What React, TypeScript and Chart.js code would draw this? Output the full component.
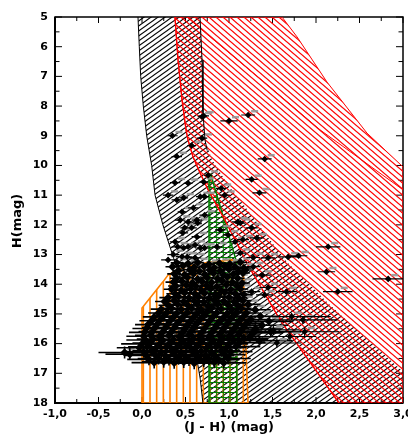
import React, { useEffect, useRef } from 'react';
import { Chart, registerables } from 'chart.js';

Chart.register(...registerables);

type Pt = [number, number];
type Star = [number, number, number]; // [J-H, H, error in J-H]

// ---------- axes ----------
const xRange: Pt = [-1, 3];
const yRange: Pt = [5, 18];
const xTitle = '(J - H) (mag)';
const yTitle = 'H(mag)';

// ---------- region boundaries [J-H, H] ----------
const blackLeftEdge: Pt[] = [
  [-0.046, 5], [-0.031, 6], [-0.015, 7], [0.015, 8], [0.054, 9], [0.111, 10], [0.15, 11],
  [0.24, 12], [0.35, 13], [0.46, 14], [0.54, 15], [0.6, 16], [0.63, 16.5], [0.67, 17.2], [0.7, 18],
];
const blackRightEdge: Pt[] = [
  [0.667, 5], [0.69, 6.45], [0.701, 8.23], [0.724, 9.14], [0.805, 9.81], [0.989, 10.66],
  [1.241, 11.6], [1.471, 12.51], [1.667, 13.25], [2.161, 14.7], [3.0, 16.95],
];
const blackRightOutline: Pt[] = [[0.667, 5], [0.69, 6.45], [0.701, 8.23], [0.724, 9.14], [0.75, 9.5]];

const redLeftEdge: Pt[] = [
  [0.379, 5], [0.414, 6.45], [0.46, 7.79], [0.506, 8.8], [0.529, 9.14], [0.586, 9.71],
  [0.667, 10.25], [0.759, 10.82], [0.954, 11.84], [1.218, 13.35], [1.586, 15.2], [2.264, 18],
];
const redRightEdge: Pt[] = [[1.609, 5], [1.782, 5.67], [2.126, 7.19], [2.586, 8.91], [3.0, 10.05]];
const redInnerLine: Pt[] = [[0.517, 5], [0.69, 5.44], [1.471, 7.36], [2.046, 8.8], [3.0, 10.82]];

const greenBox: Pt[] = [[0.77, 10.3], [0.79, 10.3], [1.09, 13.28], [1.09, 18], [0.77, 18]];
const orangeBox: Pt[] = [
  [0.0, 18], [0.0, 14.8], [0.241, 13.92], [0.299, 13.69], [0.402, 13.52], [0.586, 13.35],
  [0.782, 13.25], [1.046, 13.18], [1.161, 13.28], [1.218, 18],
];

// ---------- stars [J-H, H, err(J-H)] ----------
const brightStars: Star[] = [
  [0.71, 8.33, 0.06], [0.69, 8.36, 0.05], [1.0, 8.5, 0.1], [1.22, 8.3, 0.08],
  [0.35, 9.0, 0.06], [0.57, 9.33, 0.05], [0.69, 9.08, 0.06], [0.4, 9.7, 0.06], [1.41, 9.78, 0.08],
  [0.38, 10.58, 0.06], [0.53, 10.6, 0.05], [0.76, 10.33, 0.05], [0.71, 10.56, 0.05], [1.26, 10.47, 0.07],
  [1.35, 10.92, 0.08], [0.91, 10.77, 0.06],
  [0.3, 11.0, 0.06], [0.67, 11.05, 0.05], [0.95, 11.0, 0.06], [0.4, 11.16, 0.06], [0.48, 11.09, 0.05],
  [0.72, 11.05, 0.05], [0.59, 11.43, 0.06], [0.46, 11.56, 0.05],
  [0.44, 11.84, 0.06], [0.53, 11.9, 0.05], [0.63, 11.84, 0.06], [0.64, 11.94, 0.05], [0.72, 11.67, 0.06],
  [1.1, 11.9, 0.07], [1.13, 11.94, 0.06],
  [0.57, 12.1, 0.06], [0.49, 12.1, 0.05], [0.9, 12.17, 0.06], [1.26, 12.1, 0.07], [0.47, 12.27, 0.06],
  [0.63, 12.4, 0.06], [0.99, 12.34, 0.06], [1.16, 12.5, 0.07], [1.32, 12.44, 0.08], [1.07, 12.57, 0.06],
  [0.38, 12.57, 0.06],
  [0.41, 12.74, 0.07], [0.53, 12.74, 0.06], [0.67, 12.78, 0.06], [0.86, 12.74, 0.06], [0.48, 12.78, 0.06],
  [0.61, 12.68, 0.06], [0.72, 12.78, 0.07], [2.14, 12.74, 0.14],
  [0.36, 13.0, 0.07], [0.52, 13.08, 0.06], [1.28, 13.1, 0.08], [1.13, 12.95, 0.07], [0.3, 13.18, 0.08],
  [0.46, 13.07, 0.07], [0.61, 13.11, 0.07], [1.45, 13.11, 0.08], [1.68, 13.08, 0.12], [1.8, 13.04, 0.1],
];

const reddenedStars: Star[] = [
  [2.12, 13.58, 0.1], [2.83, 13.82, 0.18], [2.25, 14.25, 0.17], [1.66, 14.25, 0.12], [1.41, 14.36, 0.1],
  [1.45, 14.11, 0.1], [1.38, 13.69, 0.1], [1.26, 14.25, 0.1], [1.28, 13.41, 0.08], [1.2, 13.52, 0.08],
  [1.72, 15.09, 0.45], [1.85, 15.2, 0.4], [1.87, 15.6, 0.4], [1.51, 15.54, 0.3], [1.7, 15.76, 0.3],
  [1.55, 15.98, 0.28],
];

const faintStars: Star[] = [
  [0.4, 13.28, 0.07], [0.53, 13.31, 0.06], [0.64, 13.27, 0.07], [0.77, 13.33, 0.06], [0.89, 13.29, 0.08], [1.01, 13.32, 0.07], [1.13, 13.26, 0.08],
  [0.35, 13.41, 0.08], [0.47, 13.38, 0.07], [0.6, 13.43, 0.07], [0.71, 13.4, 0.06], [0.83, 13.44, 0.08], [0.95, 13.39, 0.07], [1.07, 13.42, 0.07], [1.17, 13.45, 0.09],
  [0.42, 13.54, 0.07], [0.55, 13.51, 0.08], [0.66, 13.56, 0.07], [0.78, 13.52, 0.07], [0.9, 13.55, 0.06], [1.0, 13.5, 0.08], [1.11, 13.57, 0.07],
  [0.37, 13.65, 0.08], [0.49, 13.68, 0.07], [0.59, 13.64, 0.08], [0.72, 13.67, 0.07], [0.82, 13.63, 0.07], [0.94, 13.69, 0.08], [1.05, 13.66, 0.07], [1.16, 13.62, 0.08],
  [0.4, 13.8, 0.08], [0.52, 13.77, 0.08], [0.64, 13.82, 0.07], [0.75, 13.78, 0.08], [0.87, 13.81, 0.07], [0.98, 13.76, 0.08], [1.1, 13.8, 0.08],
  [0.36, 13.93, 0.09], [0.46, 13.9, 0.08], [0.58, 13.95, 0.08], [0.69, 13.91, 0.07], [0.8, 13.94, 0.08], [0.92, 13.89, 0.08], [1.04, 13.93, 0.07], [1.15, 13.96, 0.09],
  [0.39, 14.06, 0.09], [0.51, 14.03, 0.08], [0.62, 14.07, 0.09], [0.74, 14.04, 0.08], [0.86, 14.08, 0.08], [0.97, 14.02, 0.09], [1.09, 14.05, 0.08],
  [0.34, 14.17, 0.09], [0.45, 14.2, 0.09], [0.56, 14.16, 0.08], [0.68, 14.19, 0.09], [0.79, 14.15, 0.08], [0.91, 14.21, 0.09], [1.02, 14.18, 0.08], [1.13, 14.16, 0.09],
  [0.38, 14.32, 0.1], [0.49, 14.29, 0.09], [0.61, 14.33, 0.09], [0.72, 14.3, 0.09], [0.84, 14.34, 0.08], [0.95, 14.28, 0.1], [1.07, 14.31, 0.09], [1.17, 14.35, 0.1],
  [0.3, 14.45, 0.1], [0.42, 14.42, 0.1], [0.54, 14.46, 0.09], [0.65, 14.43, 0.1], [0.77, 14.47, 0.09], [0.88, 14.41, 0.1], [1.0, 14.44, 0.09], [1.11, 14.46, 0.1],
  [0.26, 14.58, 0.11], [0.37, 14.55, 0.1], [0.48, 14.59, 0.1], [0.6, 14.56, 0.1], [0.71, 14.6, 0.09], [0.83, 14.54, 0.1], [0.94, 14.57, 0.1], [1.06, 14.59, 0.11], [1.16, 14.55, 0.1],
  [0.3, 14.71, 0.11], [0.41, 14.68, 0.11], [0.53, 14.72, 0.1], [0.64, 14.69, 0.11], [0.76, 14.73, 0.1], [0.87, 14.67, 0.11], [0.99, 14.7, 0.1], [1.1, 14.72, 0.11], [1.22, 14.68, 0.14],
  [0.22, 14.84, 0.12], [0.34, 14.81, 0.11], [0.45, 14.85, 0.11], [0.57, 14.82, 0.11], [0.68, 14.86, 0.1], [0.8, 14.8, 0.11], [0.91, 14.83, 0.11], [1.03, 14.85, 0.12], [1.14, 14.81, 0.12], [1.3, 14.86, 0.18],
  [0.19, 14.97, 0.12], [0.29, 14.94, 0.12], [0.4, 14.98, 0.12], [0.52, 14.95, 0.11], [0.63, 14.99, 0.12], [0.75, 14.93, 0.11], [0.86, 14.96, 0.12], [0.98, 14.98, 0.12], [1.09, 14.94, 0.12], [1.2, 14.97, 0.15],
  [0.14, 15.1, 0.13], [0.25, 15.07, 0.13], [0.36, 15.11, 0.12], [0.48, 15.08, 0.13], [0.59, 15.12, 0.12], [0.71, 15.06, 0.12], [0.82, 15.09, 0.13], [0.94, 15.11, 0.12], [1.05, 15.07, 0.13], [1.16, 15.1, 0.14], [1.36, 15.08, 0.22],
  [0.11, 15.23, 0.14], [0.21, 15.2, 0.13], [0.32, 15.24, 0.13], [0.44, 15.21, 0.14], [0.55, 15.25, 0.13], [0.67, 15.19, 0.13], [0.78, 15.22, 0.14], [0.9, 15.24, 0.13], [1.01, 15.2, 0.14], [1.12, 15.23, 0.15], [1.25, 15.19, 0.2], [1.46, 15.25, 0.28],
  [0.07, 15.36, 0.15], [0.18, 15.33, 0.14], [0.29, 15.37, 0.14], [0.4, 15.34, 0.15], [0.52, 15.38, 0.14], [0.63, 15.32, 0.14], [0.75, 15.35, 0.15], [0.86, 15.37, 0.14], [0.98, 15.33, 0.15], [1.09, 15.36, 0.16], [1.2, 15.32, 0.2], [1.38, 15.38, 0.3],
  [0.05, 15.49, 0.16], [0.15, 15.46, 0.15], [0.26, 15.5, 0.15], [0.37, 15.47, 0.16], [0.49, 15.51, 0.15], [0.6, 15.45, 0.15], [0.72, 15.48, 0.16], [0.83, 15.5, 0.15], [0.95, 15.46, 0.16], [1.06, 15.49, 0.17], [1.17, 15.45, 0.22], [1.3, 15.51, 0.3],
  [0.03, 15.62, 0.18], [0.12, 15.59, 0.16], [0.23, 15.63, 0.16], [0.34, 15.6, 0.17], [0.46, 15.64, 0.16], [0.57, 15.58, 0.16], [0.69, 15.61, 0.17], [0.8, 15.63, 0.16], [0.92, 15.59, 0.17], [1.03, 15.62, 0.18], [1.14, 15.58, 0.24], [1.28, 15.64, 0.34], [1.48, 15.6, 0.35],
  [0.02, 15.75, 0.2], [0.1, 15.72, 0.18], [0.2, 15.76, 0.17], [0.31, 15.73, 0.18], [0.43, 15.77, 0.17], [0.54, 15.71, 0.17], [0.66, 15.74, 0.18], [0.77, 15.76, 0.17], [0.89, 15.72, 0.18], [1.0, 15.75, 0.19], [1.11, 15.71, 0.25], [1.24, 15.77, 0.32],
  [0.04, 15.88, 0.22], [0.13, 15.85, 0.19], [0.24, 15.89, 0.18], [0.36, 15.86, 0.19], [0.47, 15.9, 0.18], [0.59, 15.84, 0.18], [0.7, 15.87, 0.19], [0.82, 15.89, 0.18], [0.93, 15.85, 0.19], [1.05, 15.88, 0.22], [1.17, 15.84, 0.28], [1.35, 15.9, 0.38],
  [0.0, 16.01, 0.24], [0.09, 15.98, 0.2], [0.2, 16.02, 0.19], [0.32, 15.99, 0.2], [0.43, 16.03, 0.19], [0.55, 15.97, 0.19], [0.66, 16.0, 0.2], [0.78, 16.02, 0.19], [0.89, 15.98, 0.2], [1.0, 16.01, 0.22], [1.12, 15.97, 0.3],
  [-0.03, 16.14, 0.26], [0.06, 16.11, 0.22], [0.16, 16.15, 0.21], [0.28, 16.12, 0.21], [0.39, 16.16, 0.2], [0.51, 16.1, 0.21], [0.62, 16.13, 0.21], [0.74, 16.15, 0.2], [0.85, 16.11, 0.21], [0.97, 16.14, 0.23], [1.08, 16.1, 0.28],
  [-0.2, 16.3, 0.3], [0.02, 16.27, 0.24], [0.11, 16.24, 0.22], [0.22, 16.28, 0.22], [0.34, 16.25, 0.22], [0.45, 16.29, 0.21], [0.57, 16.23, 0.22], [0.68, 16.26, 0.22], [0.8, 16.28, 0.21], [0.91, 16.24, 0.22], [1.02, 16.27, 0.25],
  [-0.14, 16.36, 0.28], [0.05, 16.4, 0.25], [0.15, 16.37, 0.23], [0.27, 16.41, 0.23], [0.38, 16.38, 0.23], [0.5, 16.42, 0.22], [0.61, 16.36, 0.23], [0.73, 16.39, 0.23], [0.84, 16.41, 0.22], [0.95, 16.37, 0.24],
  [0.08, 16.53, 0.25], [0.19, 16.5, 0.24], [0.31, 16.54, 0.24], [0.42, 16.51, 0.24], [0.54, 16.55, 0.23], [0.65, 16.49, 0.24], [0.77, 16.52, 0.23], [0.88, 16.54, 0.24], [0.99, 16.5, 0.26],
  [0.14, 16.64, 0.26], [0.25, 16.61, 0.25], [0.37, 16.65, 0.25], [0.48, 16.62, 0.24], [0.6, 16.66, 0.25], [0.71, 16.6, 0.24], [0.83, 16.63, 0.25], [0.94, 16.65, 0.26],
];

// error in H by magnitude band: [upper H limit, error]
const hErrorBands: Pt[] = [[11, 0.03], [13, 0.05], [14.5, 0.08], [15.5, 0.12], [16.2, 0.16], [19, 0.2]];

const BLACK = '#000000';
const RED = '#ff0000';
const GREEN = '#008000';
const ORANGE = '#ff8000';
const FONT = 'DejaVu Sans';

function hError(h: number): number {
  for (const [lim, e] of hErrorBands) if (h < lim) return e;
  return 0.2;
}

const App = () => {
  const ref = useRef<HTMLCanvasElement>(null);

  useEffect(() => {
    const canvas = ref.current!;
    const ctx0 = canvas.getContext('2d')!;
    const mkPattern = (w: number, h: number, draw: (g: CanvasRenderingContext2D) => void) => {
      const c = document.createElement('canvas');
      c.width = w;
      c.height = h;
      const g = c.getContext('2d')!;
      draw(g);
      return ctx0.createPattern(c, 'repeat')!;
    };
    const blackHatch = mkPattern(7, 5, (g) => {
      g.strokeStyle = BLACK;
      g.lineWidth = 1.05;
      for (const o of [-7, 0, 7]) {
        g.beginPath();
        g.moveTo(o - 7, 10);
        g.lineTo(o + 14, -5);
        g.stroke();
      }
    });
    const redHatch = mkPattern(7, 6, (g) => {
      g.strokeStyle = RED;
      g.lineWidth = 1.25;
      for (const o of [-7, 0, 7]) {
        g.beginPath();
        g.moveTo(o - 7, -6);
        g.lineTo(o + 14, 12);
        g.stroke();
      }
    });
    const greenGrid = mkPattern(20, 5, (g) => {
      g.strokeStyle = GREEN;
      g.lineWidth = 1;
      g.beginPath();
      g.moveTo(0, 2.5);
      g.lineTo(20, 2.5);
      for (const x of [3.33, 10, 16.67]) {
        g.moveTo(x, 0);
        g.lineTo(x, 5);
      }
      g.stroke();
    });
    const orangeBars = mkPattern(20, 4, (g) => {
      g.strokeStyle = ORANGE;
      g.lineWidth = 1.6;
      g.beginPath();
      for (const x of [3.33, 10, 16.67]) {
        g.moveTo(x, 0);
        g.lineTo(x, 4);
      }
      g.stroke();
    });

    const toXY = (pts: Pt[]) => pts.map(([x, y]) => ({ x, y }));
    const outline = (pts: Pt[], color: string, width: number, order: number) => ({
      data: toXY(pts),
      showLine: true,
      fill: false,
      borderColor: color,
      borderWidth: width,
      pointRadius: 0,
      tension: 0,
      order,
    });

    const blackPoly: Pt[] = [...blackLeftEdge, [3, 18], ...blackRightEdge.slice().reverse()];
    const redPoly: Pt[] = [...redLeftEdge, [3, 18], ...redRightEdge.slice().reverse()];
    const close = (p: Pt[]) => [...p, p[0]];
    const regions: [Pt[], CanvasPattern][] = [
      [blackPoly, blackHatch],
      [redPoly, redHatch],
      [orangeBox, orangeBars],
      [greenBox, greenGrid],
    ];

    const mkStars = (list: Star[]) => list.map(([x, y, ex]) => ({ x, y, ex, ey: hError(y) }));

    const errorPlugin = {
      id: 'errorBars',
      beforeDatasetDraw(chart: any, args: any) {
        const ds = chart.data.datasets[args.index];
        if (!ds.isStars) return;
        const { ctx, chartArea: a, scales } = chart;
        ctx.save();
        ctx.beginPath();
        ctx.rect(a.left, a.top, a.right - a.left, a.bottom - a.top);
        ctx.clip();
        // gray star labels
        ctx.fillStyle = 'rgba(150,150,150,0.9)';
        for (const p of ds.data) {
          const xc = scales.x.getPixelForValue(p.x);
          const yc = scales.y.getPixelForValue(p.y);
          ctx.fillRect(xc + 3, yc - 5, 7, 2.5);
        }
        ctx.strokeStyle = '#000';
        ctx.lineWidth = ds.barWidth;
        ctx.beginPath();
        for (const p of ds.data) {
          const x0 = scales.x.getPixelForValue(p.x - p.ex);
          const x1 = scales.x.getPixelForValue(p.x + p.ex);
          const yc = scales.y.getPixelForValue(p.y);
          const xc = scales.x.getPixelForValue(p.x);
          const y0 = scales.y.getPixelForValue(p.y - p.ey);
          const y1 = scales.y.getPixelForValue(p.y + p.ey);
          ctx.moveTo(x0, yc);
          ctx.lineTo(x1, yc);
          ctx.moveTo(xc, y0);
          ctx.lineTo(xc, y1);
        }
        ctx.stroke();
        ctx.restore();
      },
    };

    const framePlugin = {
      id: 'frame',
      beforeDatasetsDraw(chart: any) {
        const { ctx, chartArea: a, scales } = chart;
        ctx.save();
        ctx.strokeStyle = '#000';
        ctx.lineWidth = 1;
        ctx.beginPath();
        for (let v = xRange[0]; v <= xRange[1] + 1e-9; v += 0.25) {
          const x = scales.x.getPixelForValue(v);
          const major = Math.abs(v * 2 - Math.round(v * 2)) < 1e-6;
          const len = major ? 6 : 4;
          ctx.moveTo(x, a.bottom);
          ctx.lineTo(x, a.bottom - len);
          ctx.moveTo(x, a.top);
          ctx.lineTo(x, a.top + len);
        }
        for (let v = yRange[0]; v <= yRange[1] + 1e-9; v += 0.5) {
          const y = scales.y.getPixelForValue(v);
          const major = Math.abs(v - Math.round(v)) < 1e-6;
          const len = major ? 7 : 4.5;
          ctx.moveTo(a.left, y);
          ctx.lineTo(a.left + len, y);
          ctx.moveTo(a.right, y);
          ctx.lineTo(a.right - len, y);
        }
        ctx.stroke();
        ctx.lineWidth = 1.5;
        ctx.strokeRect(a.left, a.top, a.right - a.left, a.bottom - a.top);
        ctx.lineWidth = 2;
        ctx.beginPath();
        ctx.moveTo(a.left, a.top);
        ctx.lineTo(a.left, a.bottom);
        ctx.lineTo(a.right, a.bottom);
        ctx.stroke();

        // hatched regions
        ctx.beginPath();
        ctx.rect(a.left, a.top, a.right - a.left, a.bottom - a.top);
        ctx.clip();
        for (const [poly, pattern] of regions) {
          ctx.beginPath();
          poly.forEach(([x, y], i) => {
            const px = scales.x.getPixelForValue(x);
            const py = scales.y.getPixelForValue(y);
            if (i === 0) ctx.moveTo(px, py);
            else ctx.lineTo(px, py);
          });
          ctx.closePath();
          ctx.fillStyle = pattern;
          ctx.fill();
        }
        ctx.restore();
      },
      afterDraw(chart: any) {
        const { ctx, chartArea: a } = chart;
        ctx.save();
        ctx.fillStyle = '#000';
        ctx.font = `bold 13px "${FONT}"`;
        ctx.textAlign = 'center';
        ctx.textBaseline = 'middle';
        ctx.fillText(xTitle, (a.left + a.right) / 2, 428);
        ctx.translate(18, 221);
        ctx.rotate(-Math.PI / 2);
        ctx.fillText(yTitle, 0, 0);
        ctx.restore();
      },
    };

    const tickFont = { family: FONT, weight: 'bold' as const, size: 11 };
    const starSet = (list: Star[], radius: number, barWidth: number) =>
      ({
        data: mkStars(list),
        isStars: true,
        barWidth,
        pointStyle: 'rectRot',
        pointRadius: radius,
        backgroundColor: '#000',
        borderColor: '#000',
        borderWidth: 0,
        order: 0,
      }) as any;

    const chart = new Chart(canvas, {
      type: 'scatter',
      data: {
        datasets: [
          starSet(brightStars, 3.3, 1.2),
          starSet(reddenedStars, 3.3, 1.2),
          starSet(faintStars, 4.2, 1.6),
          outline(blackLeftEdge, BLACK, 1, 1),
          outline(blackRightOutline, BLACK, 1, 1),
          outline(redLeftEdge, RED, 1.3, 1),
          outline(close(redPoly), RED, 1, 1),
          outline(redInnerLine, RED, 1, 1),
          outline(close(greenBox), GREEN, 1.5, 2),
          outline(close(orangeBox), ORANGE, 1.6, 3),
        ] as any,
      },
      options: {
        animation: false,
        responsive: false,
        devicePixelRatio: 1,
        events: [],
        layout: { padding: { top: 17, right: 5, left: 0, bottom: 0 } },
        plugins: { legend: { display: false }, tooltip: { enabled: false } },
        scales: {
          x: {
            type: 'linear',
            min: xRange[0],
            max: xRange[1],
            afterFit: (s: any) => {
              s.height = 37;
              s.paddingLeft = 0;
              s.paddingRight = 0;
            },
            ticks: {
              stepSize: 0.5,
              autoSkip: false,
              maxRotation: 0,
              padding: 5,
              color: '#000',
              font: tickFont,
              callback: (v: any) => Number(v).toFixed(1).replace('.', ','),
            },
            grid: { display: false, drawTicks: false },
            border: { display: false },
          },
          y: {
            type: 'linear',
            min: yRange[0],
            max: yRange[1],
            reverse: true,
            afterFit: (s: any) => {
              s.width = 55;
              s.paddingTop = 0;
              s.paddingBottom = 0;
            },
            ticks: {
              stepSize: 1,
              autoSkip: false,
              padding: 7,
              color: '#000',
              font: tickFont,
            },
            grid: { display: false, drawTicks: false },
            border: { display: false },
          },
        },
      } as any,
      plugins: [framePlugin, errorPlugin],
    });

    return () => chart.destroy();
  }, []);

  return (
    <div style={{ position: 'fixed', left: 0, top: 0, width: 408, height: 440, background: '#fff' }}>
      <canvas ref={ref} width={408} height={440} style={{ display: 'block' }} />
    </div>
  );
};

export default App;
